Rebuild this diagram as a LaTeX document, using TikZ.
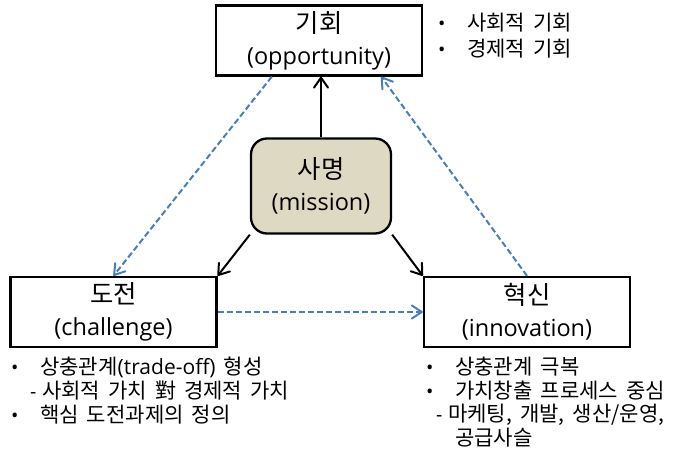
\documentclass[tikz,border=0pt]{standalone}
\usepackage{fontspec}
\setmainfont{Open Sans}
\newfontfamily\kr[Scale=1.08]{Noto Sans CJK KR}
\usepackage{tikz}
\usetikzlibrary{arrows.meta}
\definecolor{missiontan}{HTML}{DDD9C3}
\definecolor{flowblue}{HTML}{4A7EBB}
\newcommand{\notefont}{\fontsize{19.5}{23.5}\selectfont\spaceskip 8pt\relax}
\tikzstyle{stage}=[draw=black, line width=2.3pt, minimum width=206pt, minimum height=70pt, align=center, inner sep=0pt, font=\fontsize{23.5}{32}\selectfont]
\tikzstyle{core}=[stage, fill=missiontan, rounded corners=16pt, minimum width=140pt, minimum height=95pt]
\tikzstyle{push}=[line width=2pt, -{Straight Barb[length=10pt, width=14pt, round]}]
\tikzstyle{flow}=[line width=2pt, color=flowblue, dash pattern=on 6pt off 3pt, -{Straight Barb[length=10pt, width=13pt, round]}]
\tikzstyle{note}=[anchor=base west, inner sep=0pt, font=\notefont]
\newcommand{\itm}{\makebox[29pt][l]{•}}
\newcommand{\subitm}[1]{\hspace*{#1}\makebox[12pt][l]{-}}

\begin{document}
\begin{tikzpicture}[x=1pt, y=1pt]
\useasboundingbox (0,0) rectangle (676,457);

\node[stage] (opp) at (319,416.5) {{\kr 기회}\\(opportunity)};
\node[core] (mission) at (321,271) {{\kr 사명}\\(mission)};
\node[stage] (chal) at (113.5,145) {{\kr 도전}\\(challenge)};
\node[stage] (innov) at (527,145) {{\kr 혁신}\\(innovation)};

% notes beside the boxes
\node[note] (opp1) at (438,426.7) {\itm{\kr 사회적 기회}};
\node[note] (opp2) at (438,400.7) {\itm{\kr 경제적 기회}};

\node[note] (chal1) at (11,82.7) {\itm{\kr 상충관계}{\fontsize{21}{23.5}\selectfont(trade-off)} {\kr 형성}};
\node[note] (chal2) at (11,58.7) {\subitm{19pt}{\kr 사회적 가치 對 경제적 가치}};
\node[note] (chal3) at (11,34.7) {\itm{\kr 핵심 도전과제의 정의}};

\node[note] (innov1) at (426,82.7) {\itm{\kr 상충관계 극복}};
\node[note] (innov2) at (426,58.7) {\itm{\kr 가치창출 프로세스 중심}};
\node[note] (innov3) at (426,35.2) {\subitm{10pt}{\kr 마케팅, 개발, 생산/운영,}};
\node[note] (innov4) at (426,11.7) {\hspace*{29pt}{\kr 공급사슬}};

% mission drives the three stages
\draw[push] (mission.north) -- (mission.north |- opp.south);
\draw[push] (mission.south west) -- (chal.north east);
\draw[push] (mission.south east) -- (innov.north west);

% cycle between the stages
\coordinate (oppout) at ([xshift=57pt]opp.south west);
\coordinate (oppin) at ([xshift=-42pt]opp.south east);
\draw[flow] (oppout) -- (chal.north);
\draw[flow] (chal.east) -- (innov.west);
\draw[flow] (innov.north) -- (oppin);
\end{tikzpicture}
\end{document}
